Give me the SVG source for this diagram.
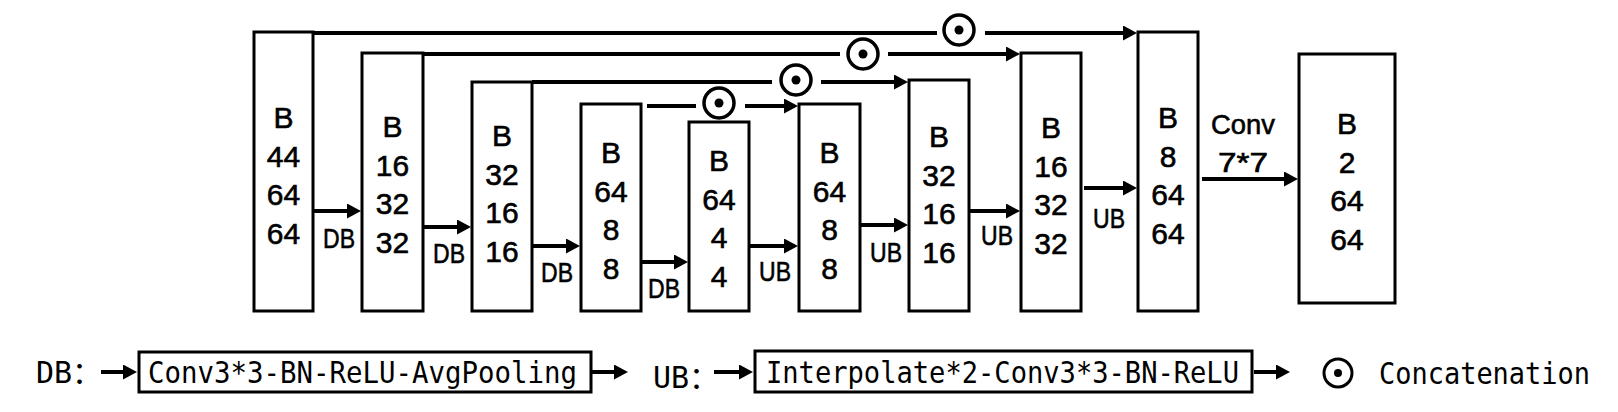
<svg xmlns="http://www.w3.org/2000/svg" width="1618" height="412" viewBox="0 0 1618 412">
<style>
.box{fill:#fff;stroke:#000;stroke-width:3}
.t{font-family:"Liberation Sans",Arial,sans-serif;font-size:30px;text-anchor:middle;fill:#000;stroke:#000;stroke-width:0.6}
.lbl{font-family:"Liberation Sans",Arial,sans-serif;font-size:28px;text-anchor:middle;fill:#000;stroke:#000;stroke-width:0.6}
.lg{font-family:"DejaVu Sans Mono","Noto Sans CJK SC",monospace;font-size:30px;fill:#000}
.c{stroke:#000;stroke-width:4;fill:none}
.ca{stroke:#000;stroke-width:4;fill:none;marker-end:url(#ah)}
.cat{fill:#fff;stroke:#000;stroke-width:3.5}
</style>
<defs>
<marker id="ah" markerUnits="userSpaceOnUse" markerWidth="14" markerHeight="15" viewBox="0 0 14 15" refX="4" refY="7.5" orient="auto"><path d="M0,0 L14,7.5 L0,15 z" fill="#000"/></marker>
<g id="concat"><circle class="cat" r="15"/><circle r="4.5" fill="#000"/></g>
</defs>

<g id="connectors">
<!-- skip connections -->
<line class="c" x1="254" y1="33" x2="937" y2="33"/>
<line class="ca" x1="985" y1="33" x2="1127" y2="33"/>
<use href="#concat" x="959" y="30"/>

<line class="c" x1="423" y1="54" x2="840" y2="54"/>
<line class="ca" x1="888" y1="54" x2="1010" y2="54"/>
<use href="#concat" x="863" y="54"/>

<line class="c" x1="532" y1="82" x2="772" y2="82"/>
<line class="ca" x1="821" y1="82" x2="898" y2="82"/>
<use href="#concat" x="796" y="80"/>

<line class="c" x1="647" y1="106" x2="696" y2="106"/>
<line class="ca" x1="745" y1="106" x2="788" y2="106"/>
<use href="#concat" x="719" y="103"/>

<!-- block arrows -->
<line class="ca" x1="313" y1="211" x2="351" y2="211"/>
<line class="ca" x1="423" y1="227" x2="461" y2="227"/>
<line class="ca" x1="532" y1="246" x2="570" y2="246"/>
<line class="ca" x1="641" y1="262" x2="678" y2="262"/>
<line class="ca" x1="749" y1="246" x2="788" y2="246"/>
<line class="ca" x1="860" y1="225" x2="898" y2="225"/>
<line class="ca" x1="969" y1="211" x2="1010" y2="211"/>
<line class="ca" x1="1084" y1="188" x2="1127" y2="188"/>
<line class="ca" x1="1202" y1="179" x2="1288" y2="179"/>

<text class="lbl" x="339" y="248" textLength="32" lengthAdjust="spacingAndGlyphs">DB</text>
<text class="lbl" x="449" y="263" textLength="32" lengthAdjust="spacingAndGlyphs">DB</text>
<text class="lbl" x="557" y="282" textLength="32" lengthAdjust="spacingAndGlyphs">DB</text>
<text class="lbl" x="664" y="298" textLength="32" lengthAdjust="spacingAndGlyphs">DB</text>
<text class="lbl" x="775" y="281" textLength="32" lengthAdjust="spacingAndGlyphs">UB</text>
<text class="lbl" x="886" y="262" textLength="32" lengthAdjust="spacingAndGlyphs">UB</text>
<text class="lbl" x="997" y="245" textLength="32" lengthAdjust="spacingAndGlyphs">UB</text>
<text class="lbl" x="1109" y="228" textLength="32" lengthAdjust="spacingAndGlyphs">UB</text>
<text class="lbl" x="1243" y="134" textLength="64" lengthAdjust="spacingAndGlyphs">Conv</text>
<text class="lbl" x="1243" y="172" textLength="50" lengthAdjust="spacingAndGlyphs">7*7</text>
</g>

<g id="n1"><rect class="box" x="254" y="32" width="59" height="279"/>
<text class="t" x="283.5" y="128"><tspan x="283.5">B</tspan><tspan x="283.5" dy="38.7">44</tspan><tspan x="283.5" dy="38.7">64</tspan><tspan x="283.5" dy="38.7">64</tspan></text></g>
<g id="n2"><rect class="box" x="362" y="53" width="61" height="258"/>
<text class="t" x="392.5" y="137"><tspan x="392.5">B</tspan><tspan x="392.5" dy="38.7">16</tspan><tspan x="392.5" dy="38.7">32</tspan><tspan x="392.5" dy="38.7">32</tspan></text></g>
<g id="n3"><rect class="box" x="472" y="82" width="60" height="229"/>
<text class="t" x="502" y="146"><tspan x="502">B</tspan><tspan x="502" dy="38.7">32</tspan><tspan x="502" dy="38.7">16</tspan><tspan x="502" dy="38.7">16</tspan></text></g>
<g id="n4"><rect class="box" x="581" y="104" width="60" height="207"/>
<text class="t" x="611" y="163"><tspan x="611">B</tspan><tspan x="611" dy="38.7">64</tspan><tspan x="611" dy="38.7">8</tspan><tspan x="611" dy="38.7">8</tspan></text></g>
<g id="n5"><rect class="box" x="689" y="122" width="60" height="189"/>
<text class="t" x="719" y="171"><tspan x="719">B</tspan><tspan x="719" dy="38.7">64</tspan><tspan x="719" dy="38.7">4</tspan><tspan x="719" dy="38.7">4</tspan></text></g>
<g id="n6"><rect class="box" x="799" y="104" width="61" height="207"/>
<text class="t" x="829.5" y="163"><tspan x="829.5">B</tspan><tspan x="829.5" dy="38.7">64</tspan><tspan x="829.5" dy="38.7">8</tspan><tspan x="829.5" dy="38.7">8</tspan></text></g>
<g id="n7"><rect class="box" x="909" y="80" width="60" height="231"/>
<text class="t" x="939" y="147"><tspan x="939">B</tspan><tspan x="939" dy="38.7">32</tspan><tspan x="939" dy="38.7">16</tspan><tspan x="939" dy="38.7">16</tspan></text></g>
<g id="n8"><rect class="box" x="1021" y="53" width="60" height="258"/>
<text class="t" x="1051" y="138"><tspan x="1051">B</tspan><tspan x="1051" dy="38.7">16</tspan><tspan x="1051" dy="38.7">32</tspan><tspan x="1051" dy="38.7">32</tspan></text></g>
<g id="n9"><rect class="box" x="1138" y="32" width="60" height="279"/>
<text class="t" x="1168" y="128"><tspan x="1168">B</tspan><tspan x="1168" dy="38.7">8</tspan><tspan x="1168" dy="38.7">64</tspan><tspan x="1168" dy="38.7">64</tspan></text></g>
<g id="n10"><rect class="box" x="1299" y="54" width="96" height="249"/>
<text class="t" x="1347" y="134"><tspan x="1347">B</tspan><tspan x="1347" dy="38.7">2</tspan><tspan x="1347" dy="38.7">64</tspan><tspan x="1347" dy="38.7">64</tspan></text></g>

<g id="legend">
<text class="lg" x="36" y="383">DB：</text>
<line class="ca" x1="101" y1="372" x2="127" y2="372"/>
<rect class="box" x="139" y="352" width="452" height="40"/>
<text class="lg" x="148" y="383" textLength="429" lengthAdjust="spacingAndGlyphs">Conv3*3-BN-ReLU-AvgPooling</text>
<line class="ca" x1="592" y1="372" x2="618" y2="372"/>
<text class="lg" x="653" y="388">UB：</text>
<line class="ca" x1="714" y1="372" x2="743" y2="372"/>
<rect class="box" x="755" y="351" width="497" height="41"/>
<text class="lg" x="766" y="383" textLength="473" lengthAdjust="spacingAndGlyphs">Interpolate*2-Conv3*3-BN-ReLU</text>
<line class="ca" x1="1254" y1="372" x2="1280" y2="372"/>
<circle cx="1338" cy="373" r="14" fill="#fff" stroke="#000" stroke-width="3"/>
<circle cx="1338" cy="373" r="4" fill="#000"/>
<text class="lg" x="1379" y="384" textLength="211" lengthAdjust="spacingAndGlyphs">Concatenation</text>
</g>
</svg>
